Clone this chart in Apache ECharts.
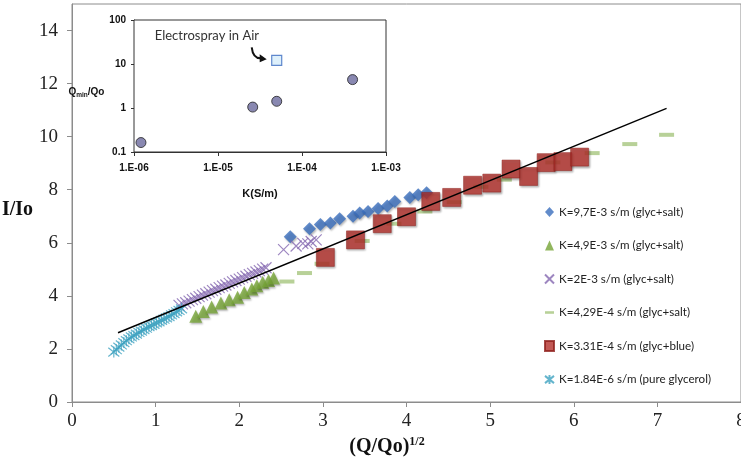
<!DOCTYPE html>
<html><head><meta charset="utf-8">
<script src="https://cdn.jsdelivr.net/npm/echarts@6/dist/echarts.min.js"></script>
<style>html,body{margin:0;padding:0;background:#fff}#c{width:741px;height:460px}</style>
</head><body><div id="c"></div><script>
// ---- main chart data ----
const xTicks = [0,1,2,3,4,5,6,7,8];
const yTicks = [0,2,4,6,8,10,12,14];
const names = [
  'K=9,7E-3 s/m (glyc+salt)',
  'K=4,9E-3 s/m (glyc+salt)',
  'K=2E-3 s/m (glyc+salt)',
  'K=4,29E-4 s/m (glyc+salt)',
  'K=3.31E-4 s/m (glyc+blue)',
  'K=1.84E-6 s/m (pure glycerol)'
];
const k97X = [2.61,2.84,2.97,3.09,3.20,3.36,3.44,3.54,3.66,3.77,3.86,4.04,4.14,4.24];
const k97Y = [6.23,6.53,6.69,6.75,6.91,7.00,7.12,7.18,7.29,7.39,7.56,7.71,7.81,7.89];
const k49X = [1.48,1.57,1.67,1.78,1.88,1.98,2.06,2.15,2.21,2.28,2.35,2.41];
const k49Y = [3.23,3.41,3.58,3.73,3.85,3.95,4.13,4.26,4.38,4.51,4.58,4.67];
const k2X = [1.28,1.32,1.36,1.40,1.44,1.48,1.52,1.56,1.60,1.64,1.68,1.72,1.76,1.80,1.84,1.88,1.92,1.96,2.00,2.04,2.08,2.12,2.16,2.20,2.24,2.28,2.32,2.53,2.68,2.76,2.82,2.86,2.92,2.98];
const k2Y = [3.64,3.70,3.74,3.80,3.86,3.91,3.97,4.03,4.08,4.14,4.20,4.25,4.31,4.37,4.41,4.47,4.53,4.58,4.63,4.69,4.74,4.80,4.85,4.90,4.95,5.01,5.06,5.74,5.88,5.98,5.96,6.05,6.11];
const k429X = [2.57,2.78,2.99,3.47,3.85,4.22,4.57,4.89,5.17,5.75,6.22,6.67,7.11];
const k429Y = [4.54,4.86,5.21,6.07,6.72,7.18,7.53,8.11,8.38,9.03,9.38,9.72,10.07];
const k331X = [3.03,3.39,3.71,4.00,4.29,4.54,4.79,5.02,5.25,5.46,5.67,5.87,6.07];
const k331Y = [5.45,6.11,6.72,6.98,7.56,7.71,8.17,8.25,8.78,8.50,9.02,9.06,9.23];
const k184X = [0.50,0.53,0.56,0.59,0.62,0.65,0.68,0.71,0.74,0.77,0.80,0.83,0.86,0.89,0.92,0.95,0.98,1.01,1.04,1.07,1.10,1.13,1.16,1.19,1.22,1.25,1.28,1.31];
const k184Y = [1.88,1.97,2.07,2.15,2.24,2.31,2.38,2.45,2.50,2.56,2.62,2.67,2.73,2.78,2.84,2.88,2.93,2.98,3.02,3.08,3.12,3.17,3.22,3.28,3.33,3.40,3.45,3.51];
const trendX = [0.55, 7.11];
const trendY = [2.61, 11.07];
// ---- inset data ----
const insetK = [1.21e-6, 2.59e-5, 5.0e-5, 4.0e-4];
const insetQ = [0.164, 1.05, 1.42, 4.42];
const airK = [5.0e-5];
const airQ = [12.1];
const insetXTicks = [1e-6,1e-5,1e-4,1e-3];
const insetYTicks = [0.1,1,10,100];

const zip = (a,b) => a.map((v,i)=>[v,b[i]]);
const shadow = {shadowBlur:2, shadowOffsetX:1, shadowOffsetY:1.5, shadowColor:'rgba(0,0,0,0.35)'};
const xPath = 'path://M0,0L10,10M10,0L0,10';
const starPath = 'path://M0,1L10,9M10,1L0,9M5,0L5,10';
const dashPath = 'path://M0,0H14V4H0Z';
const serif = '"Liberation Serif","Times New Roman",serif';
const arial = '"Liberation Sans",Arial,sans-serif';

const chart = echarts.init(document.getElementById('c'), null, {renderer:'canvas'});
const option = {
  animation:false,
  backgroundColor:'#fff',
  grid:[
    {left:72, top:4, width:669, height:398, outerBoundsMode:'none', containLabel:false, show:true, borderColor:'#8c8c8c', borderWidth:1, backgroundColor:'transparent'},
    {left:134, top:20, width:252, height:132, outerBoundsMode:'none', containLabel:false, show:true, borderColor:'#333', borderWidth:1, backgroundColor:'#fff', z:5}
  ],
  legend:{
    orient:'vertical', left:539, top:200, itemWidth:9, itemHeight:10, itemGap:19.5,
    textStyle:{fontFamily:'Lato', fontSize:11.6, color:'#222', lineHeight:14},
    data:[
      {name:names[0]}, {name:names[1]}, {name:names[2]},
      {name:names[3], icon:dashPath}, {name:names[4]}, {name:names[5]}
    ]
  },
  xAxis:[
    {type:'value', gridIndex:0, min:0, max:8, interval:1,
     name:'{a|(Q/Qo)}{s|1/2}', nameLocation:'middle', nameGap:33,
     nameTextStyle:{padding:[0,39,0,0], rich:{a:{fontFamily:serif, fontWeight:'bold', fontSize:20, color:'#111'}, s:{fontFamily:serif, fontWeight:'bold', fontSize:12, color:'#111', padding:[0,0,10,0]}}},
     axisLine:{lineStyle:{color:'#8c8c8c'}}, axisTick:{length:5, lineStyle:{color:'#8c8c8c'}},
     axisLabel:{fontFamily:serif, fontSize:19, color:'#222', margin:10}, splitLine:{show:false}},
    {type:'log', logBase:10, gridIndex:1, min:1e-6, max:1e-3,
     name:'K(S/m)', nameLocation:'middle', nameGap:36,
     nameTextStyle:{fontFamily:arial, fontWeight:'bold', fontSize:11, color:'#111'},
     axisLine:{lineStyle:{color:'#333'}}, axisTick:{length:4, lineStyle:{color:'#333'}},
     axisLabel:{fontFamily:arial, fontWeight:'bold', fontSize:10, color:'#111', margin:11,
       formatter:v=>{const e=Math.round(Math.log10(v)); return '1.E'+(e<0?'-':'+')+String(Math.abs(e)).padStart(2,'0');}},
     splitLine:{show:false}, minorTick:{show:false}}
  ],
  yAxis:[
    {type:'value', gridIndex:0, min:0, max:15, interval:1,
     name:'I/Io', nameLocation:'middle', nameRotate:0, nameGap:30,
     nameTextStyle:{fontFamily:serif, fontWeight:'bold', fontSize:20, color:'#111', verticalAlign:'top', lineHeight:14},
     axisLine:{show:true, lineStyle:{color:'#8c8c8c'}}, axisTick:{show:true, length:5, customValues:yTicks, lineStyle:{color:'#8c8c8c'}},
     axisLabel:{customValues:yTicks, fontFamily:serif, fontSize:19, color:'#222', margin:14}, splitLine:{show:false}},
    {type:'log', logBase:10, gridIndex:1, min:0.1, max:100,
     name:'{a|Q}{b|min}{a|/Qo}', nameLocation:'middle', nameRotate:0, nameGap:14,
     nameTextStyle:{padding:[12,0,0,0], rich:{a:{fontFamily:arial, fontWeight:'bold', fontSize:10, color:'#111'}, b:{fontFamily:arial, fontWeight:'bold', fontSize:6.5, color:'#111', padding:[6,0,0,0]}}},
     axisLine:{show:true, lineStyle:{color:'#333'}}, axisTick:{show:true, length:3, lineStyle:{color:'#333'}},
     axisLabel:{fontFamily:arial, fontWeight:'bold', fontSize:10, color:'#111', margin:8, formatter:v=>String(+v.toPrecision(3))},
     splitLine:{show:true, lineStyle:{color:'#111', width:1, type:[5,2,1,2]}}}
  ],
  series:[
    {name:names[0], type:'scatter', data:zip(k97X,k97Y), symbol:'diamond', symbolSize:13,
     itemStyle:Object.assign({color:'#3a6ebd'}, shadow)},
    {name:names[1], type:'scatter', data:zip(k49X,k49Y), symbol:'triangle', symbolSize:13,
     itemStyle:Object.assign({color:'#76a436'}, shadow)},
    {name:names[2], type:'scatter', data:zip(k2X,k2Y), symbol:xPath, symbolSize:11,
     itemStyle:{color:'transparent', borderColor:'#8468b0', borderWidth:1.2}},
    {name:names[3], type:'scatter', data:zip(k429X,k429Y), symbol:'rect', symbolSize:[15,4],
     itemStyle:{color:'#a6c67e'}},
    {name:names[4], type:'scatter', data:zip(k331X,k331Y), symbol:'rect', symbolSize:18,
     itemStyle:Object.assign({color:'#b3302b', borderColor:'#8f1f1c', borderWidth:0.6}, shadow)},
    {name:names[5], type:'scatter', data:zip(k184X,k184Y), symbol:starPath, symbolSize:11,
     itemStyle:{color:'transparent', borderColor:'#3ea3c0', borderWidth:1.2}},
    {name:'trend', type:'line', data:zip(trendX,trendY), symbol:'none', lineStyle:{color:'#000', width:1.4}, z:4},
    {name:'inset', type:'scatter', xAxisIndex:1, yAxisIndex:1, data:zip(insetK,insetQ), symbol:'circle', symbolSize:10, z:6,
     itemStyle:{color:'#6b6a9e', borderColor:'#222', borderWidth:1}},
    {name:'air', type:'scatter', xAxisIndex:1, yAxisIndex:1, data:zip(airK,airQ), symbol:'rect', symbolSize:10, z:6,
     itemStyle:{color:'#d6ecfa', borderColor:'#3b6cc0', borderWidth:1.2}}
  ]
};
chart.setOption(option);
const p = chart.convertToPixel({xAxisIndex:1, yAxisIndex:1}, [airK[0], airQ[0]]);
chart.setOption({graphic:[
  {type:'text', x:p[0]-122, y:p[1]-25, z:10, style:{text:'Electrospray in Air', fontFamily:'Lato', fontSize:13, fill:'#333', verticalAlign:'middle'}},
  {type:'bezierCurve', z:10, shape:{x1:p[0]-25, y1:p[1]-13, cpx1:p[0]-24, cpy1:p[1]-4, cpx2:p[0]-20, cpy2:p[1]-2, x2:p[0]-16, y2:p[1]-2}, style:{stroke:'#111', lineWidth:2, fill:null}},
  {type:'polygon', z:10, shape:{points:[[p[0]-10,p[1]-1],[p[0]-17,p[1]-6],[p[0]-17,p[1]+2]]}, style:{fill:'#111'}}
]});
</script></body></html>
